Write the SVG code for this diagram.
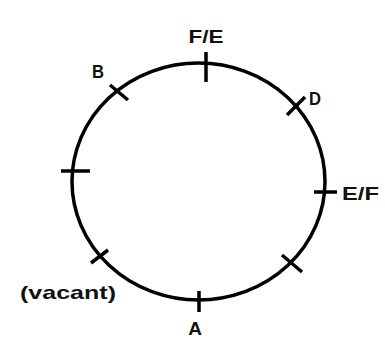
<svg xmlns="http://www.w3.org/2000/svg" width="385" height="338" viewBox="0 0 385 338">
<style>
.ring{fill:none;stroke:#000;stroke-width:3.5}
.tick{stroke:#000;stroke-width:3.5;stroke-linecap:butt}
.lbl{font-family:"Liberation Sans",Arial,sans-serif;font-weight:bold;font-size:19px;fill:#111}
</style>
<rect width="385" height="338" fill="#fff"/>
<g id="connectors">
<ellipse class="ring" cx="198.5" cy="181.5" rx="126.5" ry="118.5"/>
</g>
<g id="node-FE">
<line class="tick" x1="206" y1="52" x2="206" y2="82"/>
<text class="lbl" x="206" y="43" text-anchor="middle" textLength="35" lengthAdjust="spacingAndGlyphs">F/E</text>
</g>
<g id="node-B">
<line class="tick" x1="110" y1="85" x2="128" y2="100"/>
<text class="lbl" x="92" y="78" font-size="20" textLength="12" lengthAdjust="spacingAndGlyphs">B</text>
</g>
<g id="node-D">
<line class="tick" x1="305" y1="97" x2="287" y2="115"/>
<text class="lbl" x="309" y="105" textLength="12" lengthAdjust="spacingAndGlyphs">D</text>
</g>
<g id="node-left">
<line class="tick" x1="61" y1="171" x2="90" y2="171"/>
</g>
<g id="node-EF">
<line class="tick" x1="314" y1="192" x2="337" y2="192"/>
<text class="lbl" x="342" y="200" textLength="37" lengthAdjust="spacingAndGlyphs">E/F</text>
</g>
<g id="node-vacant">
<line class="tick" x1="91" y1="263" x2="108" y2="250"/>
<text class="lbl" x="20" y="299" font-size="21" fill="#222233" textLength="96" lengthAdjust="spacingAndGlyphs">(vacant)</text>
</g>
<g id="node-lowright">
<line class="tick" x1="282" y1="255" x2="302" y2="272"/>
</g>
<g id="node-A">
<line class="tick" x1="199" y1="291" x2="199" y2="312"/>
<text class="lbl" x="195" y="335" text-anchor="middle" font-size="20">A</text>
</g>
</svg>
